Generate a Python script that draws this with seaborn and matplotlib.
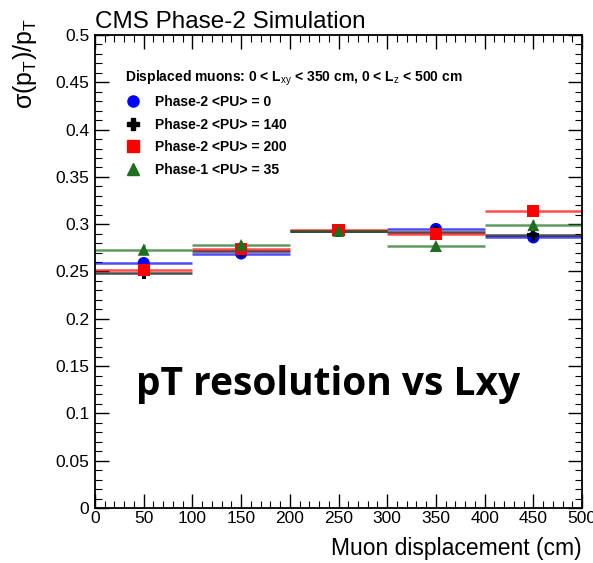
import numpy as np
import pandas as pd
import matplotlib
matplotlib.use("Agg")
import matplotlib.pyplot as plt
import seaborn as sns
from matplotlib.lines import Line2D
from matplotlib.ticker import MultipleLocator

sns.set_theme(style="white")
plt.rcParams['font.family'] = ['Liberation Sans', 'DejaVu Sans']
plt.rcParams['mathtext.fontset'] = 'custom'
plt.rcParams['mathtext.rm'] = 'Liberation Sans'
plt.rcParams['mathtext.it'] = 'Liberation Sans'
plt.rcParams['mathtext.bf'] = 'Liberation Sans:bold'
plt.rcParams['text.color'] = 'black'
plt.rcParams['axes.labelcolor'] = 'black'
plt.rcParams['xtick.color'] = 'black'
plt.rcParams['ytick.color'] = 'black'

bin_centers = [50, 150, 250, 350, 450]
bin_half_width = 50
series_names = ["Phase-2 <PU> = 0", "Phase-2 <PU> = 140", "Phase-2 <PU> = 200", "Phase-1 <PU> = 35"]
res_pu0 = [0.259, 0.269, 0.293, 0.295, 0.286]
res_pu140 = [0.248, 0.272, 0.293, 0.292, 0.289]
res_pu200 = [0.252, 0.274, 0.294, 0.290, 0.314]
res_ph1 = [0.273, 0.278, 0.293, 0.277, 0.299]
err_pu0 = [0.004, 0.003, 0.003, 0.004, 0.004]
err_pu140 = [0.005, 0.003, 0.003, 0.003, 0.004]
err_pu200 = [0.004, 0.003, 0.003, 0.003, 0.004]
err_ph1 = [0.006, 0.004, 0.003, 0.003, 0.005]

colors = ["#0000ff", "#000000", "#ff0000", "#1f6e1f"]
markers = ["o", "P", "s", "^"]

rows = []
for name, vals, errs in zip(series_names, [res_pu0, res_pu140, res_pu200, res_ph1],
                            [err_pu0, err_pu140, err_pu200, err_ph1]):
    for x, v, e in zip(bin_centers, vals, errs):
        rows.append({"x": x, "y": v, "err": e, "series": name})
df = pd.DataFrame(rows)

fig = plt.figure(figsize=(5.93, 5.63), dpi=100)
ax = fig.add_axes([95/593, 1-508/563, (582-95)/593, (508-35)/563])

for name, c in zip(series_names, colors):
    d = df[df.series == name]
    ax.errorbar(d.x, d.y, xerr=bin_half_width, yerr=d.err, fmt="none",
                ecolor=c, elinewidth=1.8, alpha=0.7, capsize=0, zorder=2)

sns.scatterplot(data=df, x="x", y="y", hue="series", style="series",
                palette=dict(zip(series_names, colors)),
                markers=dict(zip(series_names, markers)),
                s=75, edgecolor="none", linewidth=0, legend=False, ax=ax, zorder=3)

ax.set_xlim(0, 500)
ax.set_ylim(0, 0.5)
ax.xaxis.set_major_locator(MultipleLocator(50))
ax.xaxis.set_minor_locator(MultipleLocator(10))
ax.yaxis.set_major_locator(MultipleLocator(0.05))
ax.yaxis.set_minor_locator(MultipleLocator(0.01))
ax.set_xticklabels([f"{int(v)}" for v in ax.get_xticks()])
ax.set_yticklabels([("0" if v == 0 else f"{v:g}") for v in ax.get_yticks()])
ax.tick_params(which="both", direction="in", top=True, right=True,
               bottom=True, left=True, labelsize=12.5, pad=2)
ax.tick_params(which="major", length=10, width=1)
ax.tick_params(which="minor", length=5, width=0.8)
ax.tick_params(axis="y", pad=4)
for sp in ax.spines.values():
    sp.set_color("black")
    sp.set_linewidth(1.3)

ax.set_xlabel("Muon displacement (cm)", fontsize=16.5, loc="right", labelpad=8)
ax.set_ylabel(r"$\sigma$(p$_{\mathrm{T}}$)/p$_{\mathrm{T}}$", fontsize=18, loc="top")
ax.yaxis.set_label_coords(-0.115, 1.035)

fig.text(95/593, 1-28/563, "CMS Phase-2 Simulation", fontsize=17.5, ha="left", va="baseline")

handles = [Line2D([], [], linestyle="none", marker=m, color=c, markersize=8)
           for m, c in zip(markers, colors)]
leg = ax.legend(handles, series_names, loc="upper left", bbox_to_anchor=(0.035, 0.955),
                frameon=False, fontsize=10, handlelength=1.2, handletextpad=1.0,
                labelspacing=0.62,
                title=r"Displaced muons: 0 < L$_{\mathrm{xy}}$ < 350 cm, 0 < L$_{\mathrm{z}}$ < 500 cm",
                title_fontproperties={"weight": "bold", "size": 10})
leg._legend_box.align = "left"
for t in leg.get_texts():
    t.set_fontweight("bold")
    t.set_color("black")
leg.get_title().set_color("black")
leg._legend_box.sep = 5

ax.text(0.478, 0.262, "pT resolution vs Lxy", transform=ax.transAxes, fontsize=28,
        fontweight="bold", family=["Open Sans", "DejaVu Sans"], color="black",
        ha="center", va="center")

fig.savefig("out.png", dpi=100)
